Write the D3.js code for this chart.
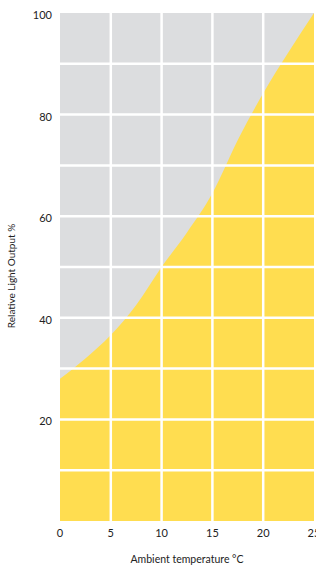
<!DOCTYPE html>
<html>
<head>
<meta charset="utf-8">
<script src="https://cdn.jsdelivr.net/npm/d3@7"></script>
<style>
  body { margin: 0; background: #fff; }
  text { font-family: Lato, "Noto Sans", sans-serif; fill: #222; }
</style>
</head>
<body>
<div id="chart-holder"></div>
<script>
// values
var temps = [0, 2.5, 5, 7.5, 10, 12.5, 15, 17.5, 20, 22.5, 25];
var output = [28, 32, 36.6, 42.5, 50, 56.8, 64.5, 75, 84.2, 92.3, 100];
var xTicks = [0, 5, 10, 15, 20, 25];
var yTicks = [20, 40, 60, 80, 100];
var yGrid = [10, 20, 30, 40, 50, 60, 70, 80, 90];

// set dimensions of the chart
var margin = { top: 13, right: 2, bottom: 46, left: 60 },
  width = 316 - margin.left - margin.right,
  height = 567 - margin.top - margin.bottom;

var svg = d3.select("#chart-holder").append("svg")
  .attr("width", 316)
  .attr("height", 567)
  .append("g")
  .attr("transform", "translate(" + margin.left + "," + margin.top + ")");

var x = d3.scaleLinear().domain([0, 25]).range([0, width]);
var y = d3.scaleLinear().domain([0, 100]).range([height, 0]);

// grey background of the plot
svg.append("rect")
  .attr("x", 0).attr("y", 0)
  .attr("width", width).attr("height", height)
  .attr("fill", "#dcdddf");

// yellow area under the curve
var area = d3.area()
  .x(function (d, i) { return x(temps[i]); })
  .y0(y(0))
  .y1(function (d) { return y(d); })
  .curve(d3.curveMonotoneX);

svg.append("path")
  .datum(output)
  .attr("d", area)
  .attr("fill", "#ffdd50");

// white grid on top
svg.selectAll(".vgrid")
  .data(xTicks.slice(1, -1))
  .enter().append("line")
  .attr("x1", function (d) { return x(d); })
  .attr("x2", function (d) { return x(d); })
  .attr("y1", 0).attr("y2", height)
  .attr("stroke", "#fff").attr("stroke-width", 2.5);

svg.selectAll(".hgrid")
  .data(yGrid)
  .enter().append("line")
  .attr("x1", 0).attr("x2", width)
  .attr("y1", function (d) { return y(d); })
  .attr("y2", function (d) { return y(d); })
  .attr("stroke", "#fff").attr("stroke-width", 2.5);

// tick labels
svg.selectAll(".xlab")
  .data(xTicks)
  .enter().append("text")
  .attr("x", function (d) { return x(d); })
  .attr("y", height + 16)
  .attr("text-anchor", "middle")
  .style("font-size", "11px")
  .text(function (d) { return d; });

svg.selectAll(".ylab")
  .data(yTicks)
  .enter().append("text")
  .attr("x", -8)
  .attr("y", function (d) { return y(d) + 6; })
  .attr("text-anchor", "end")
  .style("font-size", "11px")
  .text(function (d) { return d; });

// axis titles
svg.append("text")
  .attr("x", width / 2)
  .attr("y", height + 42)
  .attr("text-anchor", "middle")
  .style("font-size", "10.5px")
  .text("Ambient temperature °C");

svg.append("text")
  .attr("transform", "translate(-45," + (height / 2 + 9) + ")rotate(-90)")
  .attr("text-anchor", "middle")
  .style("font-size", "10px")
  .text("Relative Light Output %");
</script>
</body>
</html>
